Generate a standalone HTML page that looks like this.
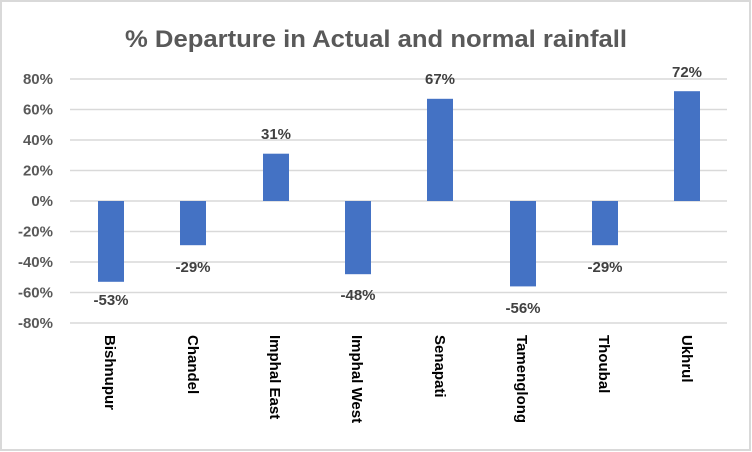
<!DOCTYPE html>
<html><head><style>body{margin:0;background:#fff}svg{display:block}</style></head><body>
<svg width="752" height="452" xmlns="http://www.w3.org/2000/svg" font-family="Liberation Sans, sans-serif">
<rect x="1" y="1" width="749" height="449" fill="#fff" stroke="#d9d9d9" stroke-width="2"/>
<text x="125" y="47" textLength="502" lengthAdjust="spacingAndGlyphs" font-size="24" font-weight="bold" fill="#595959">% Departure in Actual and normal rainfall</text>
<g stroke="#d9d9d9" stroke-width="1.5">
<line x1="70" x2="727" y1="79" y2="79"/><line x1="70" x2="727" y1="109.5" y2="109.5"/>
<line x1="70" x2="727" y1="140" y2="140"/><line x1="70" x2="727" y1="170.5" y2="170.5"/>
<line x1="70" x2="727" y1="201" y2="201"/><line x1="70" x2="727" y1="231.5" y2="231.5"/>
<line x1="70" x2="727" y1="262" y2="262"/><line x1="70" x2="727" y1="292.5" y2="292.5"/>
<line x1="70" x2="727" y1="323" y2="323"/>
</g>
<g font-size="15" font-weight="bold" fill="#595959" text-anchor="end">
<text x="53" y="84">80%</text><text x="53" y="114.5">60%</text><text x="53" y="145">40%</text><text x="53" y="175.5">20%</text><text x="53" y="206">0%</text><text x="53" y="236.5">-20%</text><text x="53" y="267">-40%</text><text x="53" y="297.5">-60%</text><text x="53" y="328">-80%</text>
</g>
<g fill="#4472c4">
<rect x="98" y="201" width="26" height="80.8"/>
<rect x="180" y="201" width="26" height="44.2"/>
<rect x="263" y="153.7" width="26" height="47.3"/>
<rect x="345" y="201" width="26" height="73.2"/>
<rect x="427" y="98.8" width="26" height="102.2"/>
<rect x="510" y="201" width="26" height="85.4"/>
<rect x="592" y="201" width="26" height="44.2"/>
<rect x="674" y="91.2" width="26" height="109.8"/>
</g>
<g font-size="15" font-weight="bold" fill="#404040" text-anchor="middle">
<text x="111" y="305">-53%</text><text x="193" y="272">-29%</text><text x="276" y="139">31%</text><text x="358" y="300">-48%</text><text x="440" y="84">67%</text><text x="523" y="313">-56%</text><text x="605" y="272">-29%</text><text x="687" y="77">72%</text>
</g>
<g font-size="15" font-weight="bold" fill="#000">
<text transform="translate(105,335) rotate(90)">Bishnupur</text>
<text transform="translate(188,335) rotate(90)">Chandel</text>
<text transform="translate(270,335) rotate(90)">Imphal East</text>
<text transform="translate(352,335) rotate(90)">Imphal West</text>
<text transform="translate(435,335) rotate(90)">Senapati</text>
<text transform="translate(517,335) rotate(90)">Tamenglong</text>
<text transform="translate(599,335) rotate(90)">Thoubal</text>
<text transform="translate(682,335) rotate(90)">Ukhrul</text>
</g>
</svg>
</body></html>
